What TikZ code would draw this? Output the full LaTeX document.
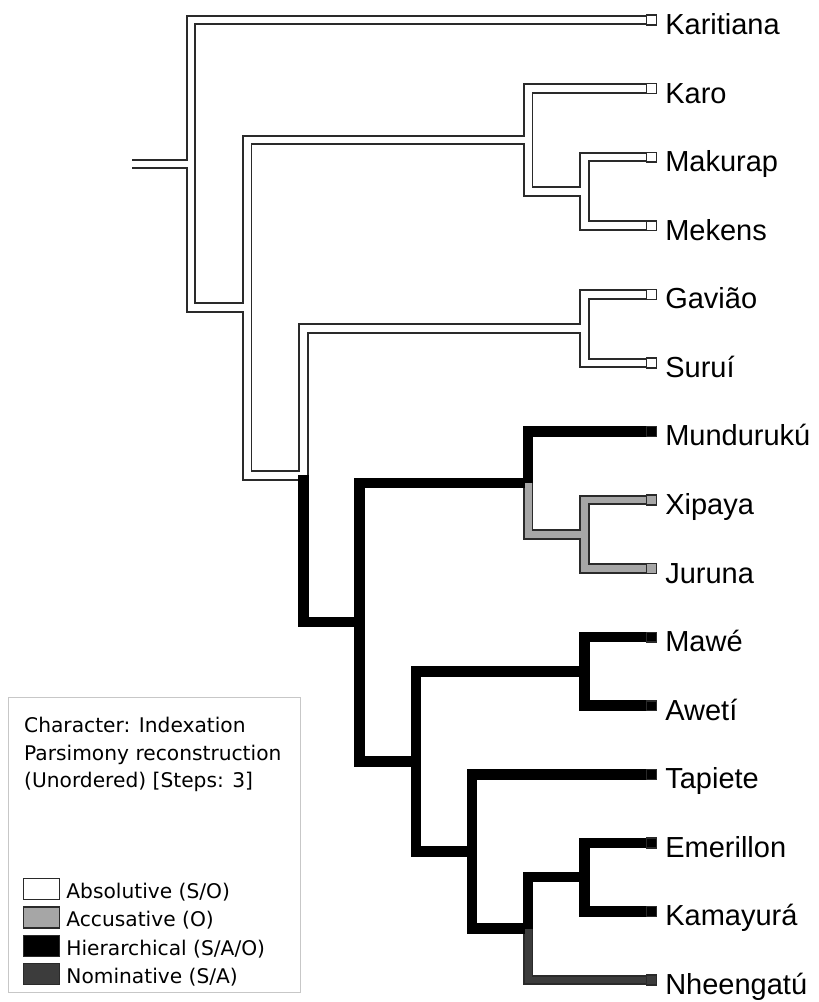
\documentclass[tikz,border=0pt]{standalone}
\usepackage{fontspec}
\setmainfont{Liberation Sans}
\newfontfamily\legendfont{DejaVu Sans}
\usetikzlibrary{positioning}

\definecolor{accgray}{HTML}{A6A6A6}
\definecolor{nomgray}{HTML}{3C3C3C}
\definecolor{edgeline}{HTML}{2A2A2A}

\tikzset{
  wire/.style={draw=edgeline,line width=10.5pt},
  core/.style={line width=6.6pt},
  absol/.style={draw=white},
  accus/.style={draw=accgray},
  hier/.style={draw=black,line width=10.5pt},
  nomin/.style={draw=nomgray},
  tip/.style={draw=edgeline,line width=1.4pt,minimum size=9.8pt,inner sep=0pt},
  taxon/.style={anchor=base west,inner sep=0pt,font=\fontsize{29}{30}\selectfont},
  legtext/.style={anchor=base west,inner sep=0pt,font=\legendfont\fontsize{20.2}{24}\selectfont},
  swatch/.style={draw=edgeline,line width=1.4pt,minimum width=36pt,minimum height=21pt,inner sep=0pt}
}

% parent/child/state of every branch
\newcommand{\cladelist}{stub/root/absol, root/kari/absol, root/n2/absol,
  n2/nk/absol, nk/karo/absol, nk/nmm/absol, nmm/maku/absol, nmm/meke/absol,
  n2/n3/absol, n3/ngs/absol, ngs/gavi/absol, ngs/suru/absol,
  n3/nt/hier, nt/nm/hier, nm/mund/hier, nm/nxj/accus, nxj/xipa/accus, nxj/juru/accus,
  nt/na/hier, na/nma/hier, nma/mawe/hier, nma/awet/hier, na/nb/hier, nb/tapi/hier,
  nb/nc/hier, nc/nek/hier, nek/emer/hier, nek/kama/hier, nc/nhee/nomin}

\begin{document}
\begin{tikzpicture}[x=1pt,y=-1pt]
  \useasboundingbox (0,0) rectangle (819,1002);
  % tips
  \node[tip,fill=white](kari)at(651.5,20){};
  \node[tip,fill=white](karo)at(651.5,88.6){};
  \node[tip,fill=white](maku)at(651.5,157.1){};
  \node[tip,fill=white](meke)at(651.5,225.7){};
  \node[tip,fill=white](gavi)at(651.5,294.3){};
  \node[tip,fill=white](suru)at(651.5,362.9){};
  \node[tip,fill=black](mund)at(651.5,431.4){};
  \node[tip,fill=accgray](xipa)at(651.5,500){};
  \node[tip,fill=accgray](juru)at(651.5,568.6){};
  \node[tip,fill=black](mawe)at(651.5,637.1){};
  \node[tip,fill=black](awet)at(651.5,705.7){};
  \node[tip,fill=black](tapi)at(651.5,774.3){};
  \node[tip,fill=black](emer)at(651.5,842.9){};
  \node[tip,fill=black](kama)at(651.5,911.4){};
  \node[tip,fill=nomgray](nhee)at(651.5,980){};
  % internal nodes
  \coordinate(stub)at(132,163.9);
  \coordinate(root)at(191,163.9);
  \coordinate(n2)at(247.2,307.7);
  \coordinate(nk)at(528.2,140);
  \coordinate(nmm)at(584.4,191.4);
  \coordinate(n3)at(303.4,475.4);
  \coordinate(ngs)at(584.4,328.6);
  \coordinate(nt)at(359.6,622.1);
  \coordinate(nm)at(528.2,482.9);
  \coordinate(nxj)at(584.4,534.3);
  \coordinate(na)at(415.8,761.4);
  \coordinate(nma)at(584.4,671.4);
  \coordinate(nb)at(472,851.4);
  \coordinate(nc)at(528.2,928.6);
  \coordinate(nek)at(584.4,877.1);
  % branches: outlines first, then the fills
  \foreach \u/\v/\s in \cladelist
    \draw[wire](\u) |- (\v);
  \foreach \u/\v/\s in \cladelist
    \draw[core,\s](\u) |- (\v);
  % taxon names
  \node[taxon](kariL)at([shift={(8,14.5)}]kari.east){Karitiana};
  \node[taxon](karoL)at([shift={(8,14.5)}]karo.east){Karo};
  \node[taxon](makuL)at([shift={(8,14.5)}]maku.east){Makurap};
  \node[taxon](mekeL)at([shift={(8,14.5)}]meke.east){Mekens};
  \node[taxon](gaviL)at([shift={(8,14.5)}]gavi.east){Gavião};
  \node[taxon](suruL)at([shift={(8,14.5)}]suru.east){Suruí};
  \node[taxon](mundL)at([shift={(8,14.5)}]mund.east){Mundurukú};
  \node[taxon](xipaL)at([shift={(8,14.5)}]xipa.east){Xipaya};
  \node[taxon](juruL)at([shift={(8,14.5)}]juru.east){Juruna};
  \node[taxon](maweL)at([shift={(8,14.5)}]mawe.east){Mawé};
  \node[taxon](awetL)at([shift={(8,14.5)}]awet.east){Awetí};
  \node[taxon](tapiL)at([shift={(8,14.5)}]tapi.east){Tapiete};
  \node[taxon](emerL)at([shift={(8,14.5)}]emer.east){Emerillon};
  \node[taxon](kamaL)at([shift={(8,14.5)}]kama.east){Kamayurá};
  \node[taxon](nheeL)at([shift={(8,14.5)}]nhee.east){Nheengatú};
  % legend
  \node[draw=black!22,line width=1pt,minimum width=292pt,minimum height=295pt,inner sep=0pt](legend)at(154,844.5){};
  \node[legtext](charL)at(24,732){Character: Indexation};
  \node[legtext](parsL)at(24,760){Parsimony reconstruction};
  \node[legtext](stepL)at(24,787.5){(Unordered) [Steps: 3]};
  \node[swatch,fill=white](swAbs)at(41.5,889){};
  \node[swatch,fill=accgray](swAcc)at(41.5,917.5){};
  \node[swatch,fill=black](swHie)at(41.5,946){};
  \node[swatch,fill=nomgray](swNom)at(41.5,974){};
  \node[legtext](absL)at([shift={(6,-2)}]swAbs.south east){Absolutive (S/O)};
  \node[legtext](accL)at([shift={(6,-2)}]swAcc.south east){Accusative (O)};
  \node[legtext](hieL)at([shift={(6,-2)}]swHie.south east){Hierarchical (S/A/O)};
  \node[legtext](nomL)at([shift={(6,-2)}]swNom.south east){Nominative (S/A)};
\end{tikzpicture}
\end{document}
